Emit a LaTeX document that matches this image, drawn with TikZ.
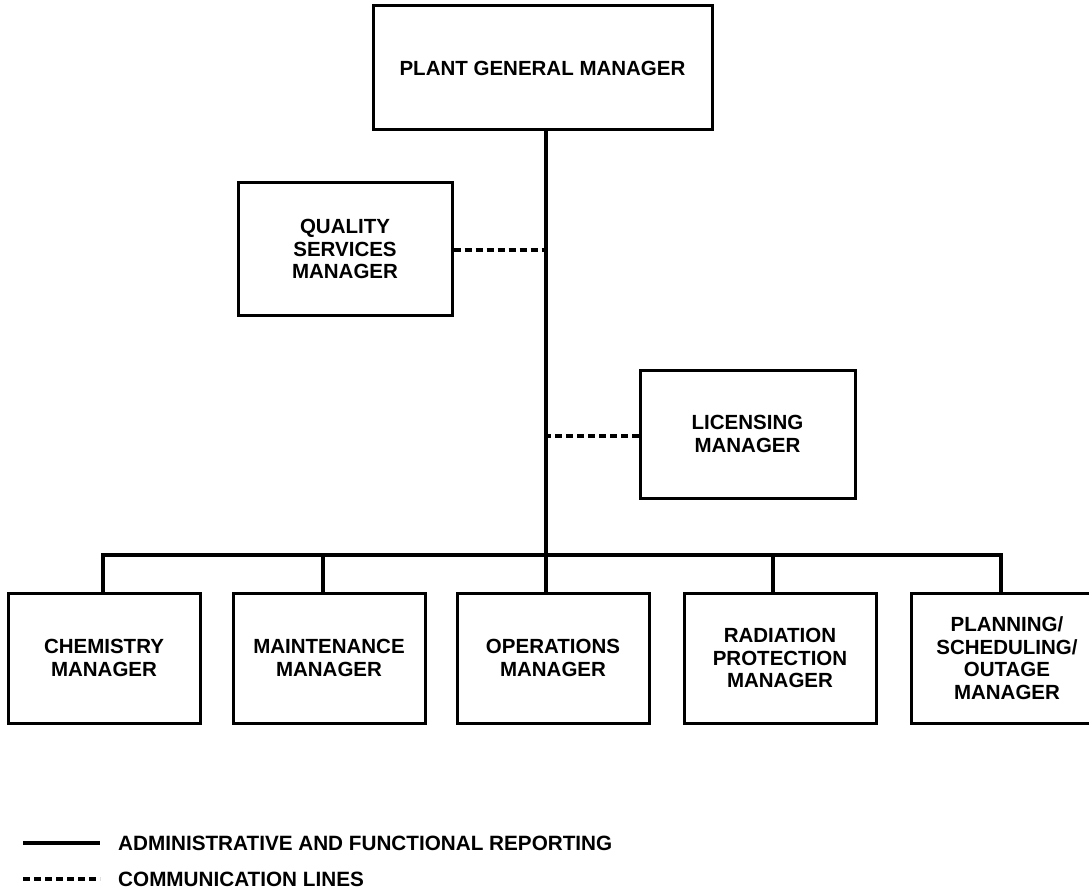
\documentclass[tikz,border=0pt]{standalone}
\usepackage{fontspec}
\setmainfont{Liberation Sans}
\begin{document}
\begin{tikzpicture}[x=1pt,y=-1pt,
    box/.style={draw,line width=3pt,minimum width=192pt,minimum height=130pt,
      align=center,inner sep=0pt,font=\fontsize{20.5}{22.5}\selectfont\bfseries},
    repline/.style={line width=3.2pt},
    comline/.style={line width=3.2pt,dash pattern=on 7pt off 4pt},
    legend/.style={anchor=west,inner sep=0pt,font=\fontsize{20.7}{22}\selectfont\bfseries}]
  \useasboundingbox (0,0) rectangle (1089,893);
  \clip (0,0) rectangle (1089,893);
  % managers
  \node[box,minimum width=339pt,minimum height=124pt] (pgm) at (542.5,68) {\raisebox{-4pt}{PLANT GENERAL MANAGER}};
  \node[box,minimum width=214pt,minimum height=132pt] (qsm) at (345,249) {QUALITY\\SERVICES\\MANAGER};
  \node[box,minimum width=215pt,minimum height=128pt] (lic) at (747.5,434) {LICENSING\\MANAGER};
  \node[box] (chem) at (104,658) {CHEMISTRY\\MANAGER};
  \node[box] (maint) at (329,658) {MAINTENANCE\\MANAGER};
  \node[box] (ops) at (553,658) {OPERATIONS\\MANAGER};
  \node[box] (rad) at (780,658) {RADIATION\\PROTECTION\\MANAGER};
  \node[box] (plan) at (1007,658) {PLANNING/\\SCHEDULING/\\OUTAGE\\MANAGER};
  \coordinate (bus) at (546,555);
  % reporting lines
  \begin{scope}[repline]
    \draw ([xshift=3.5pt]pgm.south) -- ([xshift=-7pt]ops.north);
    \draw ([xshift=-1pt]chem.north) |- (bus) -| ([xshift=-6pt]plan.north);
    \draw ([xshift=-6pt]maint.north) -- ([xshift=-6pt]maint.north |- bus);
    \draw ([xshift=-7pt]rad.north) -- ([xshift=-7pt]rad.north |- bus);
  \end{scope}
  % communication lines
  \begin{scope}[comline]
    \draw ([yshift=-1pt]qsm.east) -- ([yshift=-1pt]qsm.east -| bus);
    \draw ([yshift=-2pt]lic.west) -- ([yshift=-2pt]lic.west -| bus);
  \end{scope}
  % legend
  \node[legend] (adm) at (118,843) {ADMINISTRATIVE AND FUNCTIONAL REPORTING};
  \node[legend] (com) at (118,879) {COMMUNICATION LINES};
  \coordinate (admA) at (23,843);
  \coordinate (comA) at (23,879);
  \draw[repline] (admA) -- ([xshift=-18pt]adm.west);
  \draw[comline] (comA) -- ([xshift=-18pt]com.west);
\end{tikzpicture}
\end{document}
